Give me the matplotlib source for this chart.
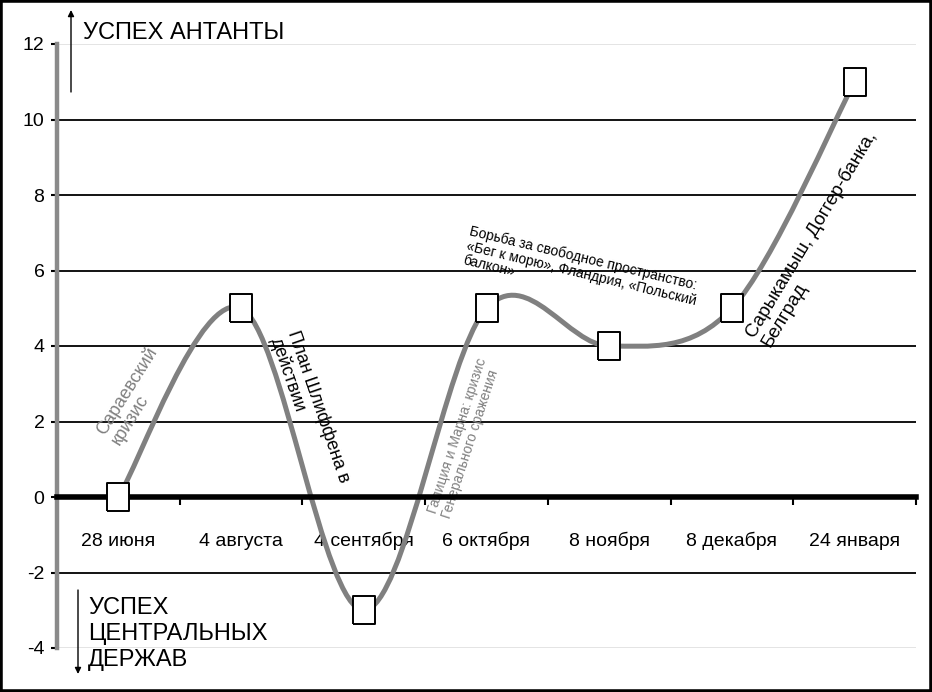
import numpy as np
import matplotlib.pyplot as plt
import matplotlib.ticker as mticker
from matplotlib.path import Path
from matplotlib.patches import PathPatch, Rectangle

# chart data
dates = ["28 июня", "4 августа", "4 сентября", "6 октября",
         "8 ноября", "8 декабря", "24 января"]
success = [0, 5, -3, 5, 4, 5, 11]
y_ticks = [-4, -2, 0, 2, 4, 6, 8, 10, 12]

events = [
    "Сараевский\nкризис",
    "План Шлиффена в\nдействии",
    "Галиция и Марна: кризис\nГенерального сражения",
    "Борьба за свободное пространство:\n«Бег к морю», Фландрия, «Польский\nбалкон»",
    "Сарыкамыш, Доггер-банка,\nБелград",
]

# where the event notes sit (data coords), their angle, size, colour
event_pos = [(0.13, 2.68), (1.56, 2.30), (2.82, 1.56), (3.77, 5.93), (5.71, 6.83)]
event_rot = [58, -71, 72, -13.5, 59]
event_size = [13, 13, 10, 10, 13.5]
event_color = ["#808080", "black", "#808080", "black", "black"]

fonts = ["Liberation Sans", "DejaVu Sans"]
plt.rcParams["font.family"] = fonts

fig = plt.figure(figsize=(9.32, 6.92), dpi=100)
ax = fig.add_axes([57 / 932, 1 - 648 / 692, (916 - 57) / 932, (648 - 44) / 692])

# smoothed line (Catmull-Rom as cubic Bezier segments)
pts = np.column_stack([np.arange(len(success), dtype=float),
                       np.array(success, dtype=float)])
verts = [pts[0]]
codes = [Path.MOVETO]
for i in range(len(pts) - 1):
    p_prev = pts[i - 1] if i > 0 else pts[i]
    p_next = pts[i + 2] if i + 2 < len(pts) else pts[i + 1]
    c1 = pts[i] + (pts[i + 1] - p_prev) / 6
    c2 = pts[i + 1] - (p_next - pts[i]) / 6
    verts += [c1, c2, pts[i + 1]]
    codes += [Path.CURVE4] * 3
curve = PathPatch(Path(verts, codes), fill=False, edgecolor="#808080",
                  lw=3.6, capstyle="round", joinstyle="round", zorder=2)
ax.add_patch(curve)

box = [(-0.78, -1), (0.78, -1), (0.78, 1), (-0.78, 1), (-0.78, -1)]
ax.plot(range(len(success)), success, linestyle="none", marker=box,
        markersize=20, markerfacecolor="white", markeredgecolor="black",
        markeredgewidth=1.4, zorder=4)

ax.set_xlim(-0.5, len(dates) - 0.5)
ax.set_ylim(y_ticks[0], y_ticks[-1])

# axes styling
for s in ["top", "right"]:
    ax.spines[s].set_visible(False)
ax.spines["left"].set_color("#8a8a8a")
ax.spines["left"].set_linewidth(3.2)
ax.spines["bottom"].set_position(("data", 0))
ax.spines["bottom"].set_linewidth(4)
ax.spines["bottom"].set_color("black")
ax.spines["bottom"].set_zorder(3)

ax.set_xticks(range(len(dates)))
ax.set_xticklabels(dates, fontsize=14)
for lbl in ax.get_xticklabels():
    lbl.set_va("baseline")
ax.xaxis.set_minor_locator(mticker.FixedLocator(np.arange(len(dates) + 1) - 0.5))
ax.tick_params(axis="x", which="major", length=0, pad=35)
ax.tick_params(axis="x", which="minor", length=6, width=1.5, color="black")

ax.set_yticks(y_ticks)
ax.set_yticklabels([str(v) for v in y_ticks], fontsize=14)
ax.tick_params(axis="y", length=4, width=1.5, color="black", pad=5)

ax.grid(axis="y", color="black", lw=1.3, zorder=1)
ax.set_axisbelow(True)
for line, v in zip(ax.get_ygridlines(), y_ticks):
    if v in (y_ticks[0], y_ticks[-1]):
        line.set_color("#e2e2e2")

# event notes
for txt, (ex, ey), rot, fs, col in zip(events, event_pos, event_rot, event_size, event_color):
    ax.text(ex, ey, txt, rotation=rot, rotation_mode="anchor", ha="center",
            va="center", multialignment="left", fontsize=fs, color=col,
            linespacing=1.05, zorder=2.5)

# direction labels and arrows
fig.text(83 / 932, 1 - 33 / 692, "УСПЕХ АНТАНТЫ", fontsize=17,
         va="center", ha="left")
fig.text(88 / 932, 1 - 634 / 692, "УСПЕХ\nЦЕНТРАЛЬНЫХ\nДЕРЖАВ", fontsize=17,
         va="center", ha="left", linespacing=1.22)
arrow = dict(arrowstyle="-|>", color="black", lw=1, mutation_scale=9,
             shrinkA=0, shrinkB=0)
ax.annotate("", xy=(71 / 932, 1 - 10 / 692), xytext=(71 / 932, 1 - 92 / 692),
            xycoords="figure fraction", arrowprops=arrow, annotation_clip=False)
ax.annotate("", xy=(78 / 932, 1 - 674 / 692), xytext=(78 / 932, 1 - 590 / 692),
            xycoords="figure fraction", arrowprops=arrow, annotation_clip=False)

fig.patches.append(Rectangle((0, 0), 1, 1, transform=fig.transFigure,
                             fill=False, edgecolor="black", lw=4))

fig.savefig("out.png", dpi=100)
